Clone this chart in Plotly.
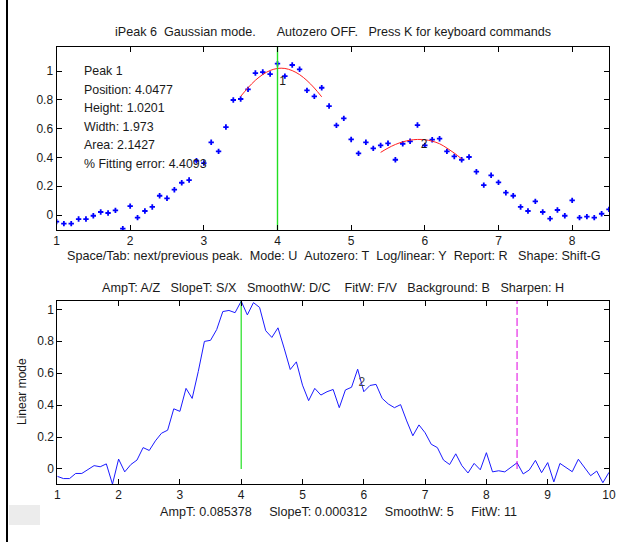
import plotly.graph_objects as go

W, H = 628, 542

# ---- data ----
x_vals = [1.0, 1.1, 1.2, 1.3, 1.4, 1.5, 1.6, 1.7, 1.8, 1.9,
          2.0, 2.1, 2.2, 2.3, 2.4, 2.5, 2.6, 2.7, 2.8, 2.9,
          3.0, 3.1, 3.2, 3.3, 3.4, 3.5, 3.6, 3.7, 3.8, 3.9,
          4.0, 4.1, 4.2, 4.3, 4.4, 4.5, 4.6, 4.7, 4.8, 4.9,
          5.0, 5.1, 5.2, 5.3, 5.4, 5.5, 5.6, 5.7, 5.8, 5.9,
          6.0, 6.1, 6.2, 6.3, 6.4, 6.5, 6.6, 6.7, 6.8, 6.9,
          7.0, 7.1, 7.2, 7.3, 7.4, 7.5, 7.6, 7.7, 7.8, 7.9,
          8.0, 8.1, 8.2, 8.3, 8.4, 8.5, 8.6, 8.7, 8.8, 8.9,
          9.0, 9.1, 9.2, 9.3, 9.4, 9.5, 9.6, 9.7, 9.8, 9.9, 10.0]
y_vals = [-0.046, -0.060, -0.060, -0.028, -0.028, -0.005, 0.021, 0.014, 0.032, -0.095,
          0.062, -0.018, 0.028, 0.056, 0.134, 0.116, 0.176, 0.224, 0.243, 0.377,
          0.361, 0.505, 0.442, 0.611, 0.799, 0.806, 0.873, 0.986, 0.993, 0.979,
          1.051, 0.965, 1.042, 1.012, 0.866, 0.824, 0.884, 0.757, 0.623, 0.671,
          0.525, 0.428, 0.505, 0.463, 0.484, 0.498, 0.384, 0.495, 0.512, 0.625,
          0.484, 0.523, 0.530, 0.442, 0.407, 0.384, 0.403, 0.301, 0.208, 0.276,
          0.227, 0.155, 0.134, 0.056, 0.028, 0.095, 0.021, -0.025, 0.035, -0.005,
          0.102, -0.018, -0.011, -0.018, 0.009, 0.039, -0.031, -0.006, 0.054, -0.023,
          0.040, -0.081, 0.035, 0.008, -0.017, 0.061, 0.008, -0.042, -0.013, -0.086, -0.021]

fit1_x = [3.5, 3.6, 3.7, 3.8, 3.9, 4.0, 4.1, 4.2, 4.3, 4.4, 4.5, 4.6]
fit1_y = [0.824, 0.884, 0.936, 0.976, 1.004, 1.018, 1.018, 1.003, 0.975, 0.934, 0.882, 0.821]
fit2_x = [5.4, 5.5, 5.6, 5.7, 5.8, 5.9, 6.0, 6.1, 6.2, 6.3, 6.4, 6.5]
fit2_y = [0.435, 0.465, 0.490, 0.508, 0.520, 0.525, 0.523, 0.513, 0.495, 0.465, 0.430, 0.390]

peak_position_line = 4.0
right_marker_line = 8.5

top_xticks = [1, 2, 3, 4, 5, 6, 7, 8]
bottom_xticks = [1, 2, 3, 4, 5, 6, 7, 8, 9, 10]
yticks = [0, 0.2, 0.4, 0.6, 0.8, 1]
ytick_labels = ["0", "0.2", "0.4", "0.6", "0.8", "1"]

peak_info = ["Peak 1", "Position: 4.0477", "Height: 1.0201", "Width: 1.973",
             "Area: 2.1427", "% Fitting error: 4.4093"]

NB = "\u00a0"
title_text = ("iPeak 6" + NB*2 + "Gaussian mode." + NB*6 + "Autozero OFF." + NB*3 +
              "Press K for keyboard commands")
top_xlabel = ("Space/Tab: next/previous peak." + NB*2 + "Mode: U" + NB*2 + "Autozero: T" + NB*2 +
              "Log/linear: Y" + NB*2 + "Report: R" + NB*3 + "Shape: Shift-G")
bottom_title = ("AmpT: A/Z" + NB*3 + "SlopeT: S/X" + NB*3 + "SmoothW: D/C" + NB*4 + "FitW: F/V" + NB*3 +
                "Background: B" + NB*3 + "Sharpen: H")
bottom_xlabel = ("AmpT: 0.085378" + NB*5 + "SlopeT: 0.000312" + NB*5 + "SmoothW: 5" + NB*5 + "FitW: 11")

# ---- figure ----
FONT = "Liberation Sans, Arial, sans-serif"
TXT = "#1a1a1a"

def px(xp):
    return xp / W

def py(yp):
    return 1 - yp / H

fig = go.Figure()

# top: data points
fig.add_trace(go.Scatter(x=x_vals, y=y_vals, mode="markers",
                         marker=dict(symbol="cross", size=4.5, color="#0000ff", line=dict(width=0)),
                         xaxis="x", yaxis="y", showlegend=False))
fig.add_trace(go.Scatter(x=fit1_x, y=fit1_y, mode="lines", line=dict(color="#ff2020", width=1, shape="spline"),
                         xaxis="x", yaxis="y", showlegend=False))
fig.add_trace(go.Scatter(x=fit2_x, y=fit2_y, mode="lines", line=dict(color="#ff2020", width=1, shape="spline"),
                         xaxis="x", yaxis="y", showlegend=False))
fig.add_trace(go.Scatter(x=[peak_position_line, peak_position_line], y=[-0.2, 1.3], mode="lines",
                         line=dict(color="#22e022", width=1.4), xaxis="x", yaxis="y", showlegend=False))
fig.add_trace(go.Scatter(x=[4.07, 5.99], y=[0.925, 0.486], mode="text", text=["1", "2"],
                         textfont=dict(family=FONT, size=12, color=TXT),
                         xaxis="x", yaxis="y", showlegend=False))

# bottom: line
fig.add_trace(go.Scatter(x=x_vals, y=y_vals, mode="lines", line=dict(color="#1a1aff", width=1),
                         xaxis="x2", yaxis="y2", showlegend=False))
fig.add_trace(go.Scatter(x=[peak_position_line, peak_position_line], y=[0, 1.2], mode="lines",
                         line=dict(color="#22e022", width=1.2), xaxis="x2", yaxis="y2", showlegend=False))
fig.add_trace(go.Scatter(x=[right_marker_line, right_marker_line], y=[0, 1.2], mode="lines",
                         line=dict(color="#e000e0", width=1, dash="8px,3px"), xaxis="x2", yaxis="y2",
                         showlegend=False))
fig.add_trace(go.Scatter(x=[5.97], y=[0.54], mode="text", text=["2"],
                         textfont=dict(family=FONT, size=12, color="#444"),
                         xaxis="x2", yaxis="y2", showlegend=False))

axis_common = dict(showline=True, linecolor="black", linewidth=1, mirror="allticks",
                   ticks="inside", ticklen=5, tickcolor="black", showgrid=False, zeroline=False,
                   automargin=False,
                   tickfont=dict(family=FONT, size=12, color=TXT))

fig.update_layout(
    width=W, height=H, autosize=False,
    margin=dict(l=0, r=0, t=0, b=0, pad=0),
    paper_bgcolor="white", plot_bgcolor="white",
    xaxis=dict(domain=[px(56.5), px(609)], range=[1, 8.5], tickvals=top_xticks, anchor="y", **axis_common),
    yaxis=dict(domain=[py(230), py(47)], range=[-0.104, 1.167], tickvals=yticks, ticktext=ytick_labels,
               anchor="x", **axis_common),
    xaxis2=dict(domain=[px(57.3), px(609)], range=[1, 10], tickvals=bottom_xticks, anchor="y2", **axis_common),
    yaxis2=dict(domain=[py(484), py(300.7)], range=[-0.094, 1.054], tickvals=yticks, ticktext=ytick_labels,
                anchor="x2", **axis_common),
    showlegend=False,
)

annotations = []
def add_text(text, xp, yp, xanchor="center", size=12.6, color=TXT, angle=0):
    annotations.append(dict(text=text, x=px(xp), y=py(yp), xref="paper", yref="paper",
                            xanchor=xanchor, yanchor="middle", showarrow=False, textangle=angle,
                            font=dict(family=FONT, size=size, color=color)))

add_text(title_text, 333, 32)
add_text(top_xlabel, 334, 256)
add_text(bottom_title, 333, 288)
add_text(bottom_xlabel, 338, 512)
add_text("Linear mode", 22, 392, angle=-90, size=12)
for i, line in enumerate(peak_info):
    add_text(line, 82, 71 + i * 18.6, xanchor="left", size=12.4)

fig.update_layout(annotations=annotations)

fig.update_layout(shapes=[
    dict(type="line", xref="paper", yref="paper", x0=px(7), x1=px(7), y0=0, y1=1,
         line=dict(color="black", width=2)),
    dict(type="rect", xref="paper", yref="paper", x0=px(9), x1=px(40), y0=py(525), y1=py(505),
         fillcolor="#ececec", line=dict(width=0)),
])

fig.write_html("out.html", config={"displayModeBar": False},
               post_script="document.body.style.margin='0';document.body.style.overflow='hidden';")
